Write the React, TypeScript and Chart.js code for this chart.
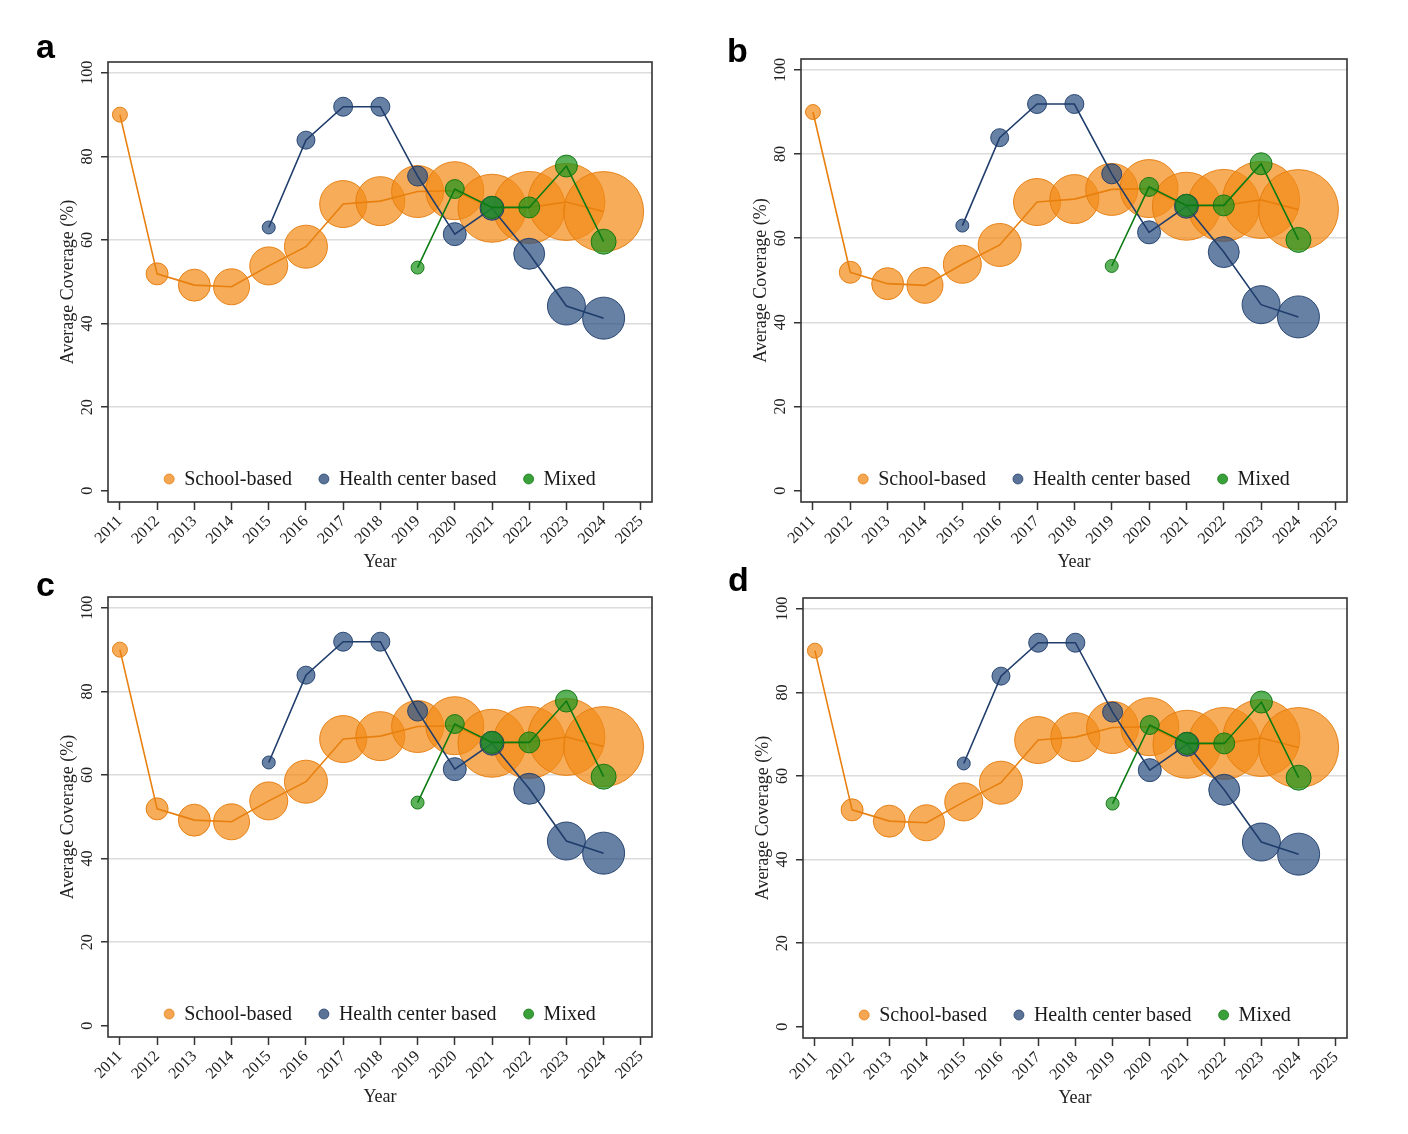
import React, { useEffect, useRef } from 'react';
import { Chart, registerables } from 'chart.js';

Chart.register(...registerables);

// Average coverage (%) by year and delivery strategy; weight = relative bubble size
const schoolYears = [2011, 2012, 2013, 2014, 2015, 2016, 2017, 2018, 2019, 2020, 2021, 2022, 2023, 2024];
const schoolCoverage = [90.0, 51.9, 49.2, 48.8, 53.8, 58.4, 68.6, 69.3, 71.6, 71.8, 67.6, 67.8, 69.1, 66.8];
const schoolWeight = [7.5, 11, 16, 18, 19, 21.5, 23.5, 24.5, 26, 29, 34, 36, 38.5, 40];

const healthYears = [2015, 2016, 2017, 2018, 2019, 2020, 2021, 2022, 2023, 2024];
const healthCoverage = [63.0, 83.9, 91.9, 91.9, 75.3, 61.4, 67.6, 56.7, 44.2, 41.3];
const healthWeight = [6.5, 9, 9.5, 9.5, 10, 11.5, 12, 15.5, 19, 21];

const mixedYears = [2019, 2020, 2021, 2022, 2023, 2024];
const mixedCoverage = [53.4, 72.2, 67.8, 67.8, 77.7, 59.6];
const mixedWeight = [6.5, 9.5, 11, 10.5, 11, 12.5];

const yearTicks = [2011, 2012, 2013, 2014, 2015, 2016, 2017, 2018, 2019, 2020, 2021, 2022, 2023, 2024, 2025];
const coverageTicks = [0, 20, 40, 60, 80, 100];
const seriesNames = ['School-based', 'Health center based', 'Mixed'];

const SERIF = '"Liberation Serif", "Times New Roman", serif';

const colors = {
  school: { fill: 'rgba(243, 140, 25, 0.72)', edge: 'rgba(228, 122, 10, 0.9)', line: '#e8800f', key: '#f5a652' },
  health: { fill: 'rgba(45, 80, 130, 0.72)', edge: 'rgba(30, 60, 105, 0.9)', line: '#1f3d6b', key: '#5a7397' },
  mixed: { fill: 'rgba(28, 148, 28, 0.72)', edge: 'rgba(15, 115, 15, 0.9)', line: '#0b7a12', key: '#3aa13a' },
};

// plot-area rectangles of the four panels (page pixels)
const panels = [
  { letter: 'a', l: 108, t: 62, r: 653, b: 502, lx: 36, ly: 29 },
  { letter: 'b', l: 801, t: 59, r: 1348, b: 502, lx: 727, ly: 33 },
  { letter: 'c', l: 108, t: 597, r: 653, b: 1037, lx: 36, ly: 567 },
  { letter: 'd', l: 803, t: 598, r: 1348, b: 1038, lx: 728, ly: 562 },
];

const bubbleRadius = (w: number) => w;

const framePlugin = {
  id: 'frame',
  afterDraw(chart: any) {
    const { ctx, chartArea } = chart;
    ctx.save();
    ctx.strokeStyle = '#333';
    ctx.lineWidth = 1.6;
    ctx.strokeRect(chartArea.left, chartArea.top, chartArea.right - chartArea.left, chartArea.bottom - chartArea.top);
    ctx.restore();
  },
};

const legendPlugin = {
  id: 'insideLegend',
  afterDraw(chart: any) {
    const { ctx, chartArea } = chart;
    const keys = [colors.school, colors.health, colors.mixed];
    ctx.save();
    ctx.font = `20px ${SERIF}`;
    const widths = seriesNames.map((n) => ctx.measureText(n).width);
    const mr = 5;
    const toText = 15;
    const gap = 32;
    const total = mr + widths.reduce((s, w) => s + toText + w, 0) + gap * (widths.length - 1);
    const cx = (chartArea.left + chartArea.right) / 2;
    const y = chartArea.bottom - 23;
    let x = cx - total / 2 + mr;
    seriesNames.forEach((name, i) => {
      ctx.beginPath();
      ctx.arc(x, y, mr, 0, Math.PI * 2);
      ctx.fillStyle = keys[i].key;
      ctx.fill();
      ctx.lineWidth = 0.8;
      ctx.strokeStyle = keys[i].edge;
      ctx.stroke();
      ctx.fillStyle = '#1a1a1a';
      ctx.textAlign = 'left';
      ctx.textBaseline = 'middle';
      ctx.fillText(name, x + toText, y + 1);
      x += toText + widths[i] + gap;
    });
    ctx.restore();
  },
};

const bubbles = (xs: number[], ys: number[], ws: number[]) =>
  xs.map((x, i) => ({ x, y: ys[i], r: bubbleRadius(ws[i]) }));
const points = (xs: number[], ys: number[]) => xs.map((x, i) => ({ x, y: ys[i] }));

const Panel: React.FC<{ l: number; t: number; r: number; b: number }> = ({ l, t, r, b }) => {
  const canvasRef = useRef<HTMLCanvasElement>(null);
  const chartRef = useRef<Chart | null>(null);
  const width = r - l + 148;
  const height = b - t + 130;

  useEffect(() => {
    if (!canvasRef.current) return;
    if (chartRef.current) chartRef.current.destroy();

    const series = [
      { key: colors.school, xs: schoolYears, ys: schoolCoverage, ws: schoolWeight, name: seriesNames[0] },
      { key: colors.health, xs: healthYears, ys: healthCoverage, ws: healthWeight, name: seriesNames[1] },
      { key: colors.mixed, xs: mixedYears, ys: mixedCoverage, ws: mixedWeight, name: seriesNames[2] },
    ];
    const datasets: any[] = [];
    series.forEach((s, i) => {
      datasets.push({
        type: 'bubble',
        label: s.name,
        data: bubbles(s.xs, s.ys, s.ws),
        backgroundColor: s.key.fill,
        borderColor: s.key.edge,
        borderWidth: 1,
        order: 6 - i * 2,
      });
      datasets.push({
        type: 'line',
        label: s.name + ' line',
        data: points(s.xs, s.ys),
        borderColor: s.key.line,
        borderWidth: 1.6,
        pointRadius: 0,
        fill: false,
        tension: 0,
        order: 5 - i * 2,
      });
    });

    chartRef.current = new Chart(canvasRef.current, {
      type: 'bubble',
      data: { datasets },
      plugins: [framePlugin, legendPlugin],
      options: {
        animation: false,
        responsive: false,
        devicePixelRatio: 1,
        layout: { padding: { left: 53, top: 50, right: 40, bottom: 5 } },
        plugins: { legend: { display: false }, tooltip: { enabled: false } },
        scales: {
          x: {
            type: 'linear',
            min: 2010.68,
            max: 2025.3,
            afterBuildTicks: (axis: any) => {
              axis.ticks = yearTicks.map((v) => ({ value: v }));
            },
            afterFit: (scale: any) => {
              scale.height = 75;
              scale.paddingLeft = 0;
              scale.paddingRight = 0;
            },
            border: { display: false },
            grid: {
              drawOnChartArea: false,
              drawTicks: true,
              tickLength: 8,
              tickColor: '#333',
              tickWidth: 1.5,
            },
            ticks: {
              autoSkip: false,
              minRotation: 45,
              maxRotation: 45,
              padding: 2,
              color: '#222',
              font: { family: SERIF, size: 16 },
              callback: (v: any) => String(v),
            },
            title: {
              display: true,
              text: 'Year',
              color: '#222',
              font: { family: SERIF, size: 18 },
              padding: { top: 4, bottom: 4 },
            },
          },
          y: {
            type: 'linear',
            min: -2.7,
            max: 102.6,
            afterBuildTicks: (axis: any) => {
              axis.ticks = coverageTicks.map((v) => ({ value: v }));
            },
            afterFit: (scale: any) => {
              scale.width = 55;
              scale.paddingTop = 0;
              scale.paddingBottom = 0;
            },
            border: { display: false },
            grid: {
              drawOnChartArea: true,
              color: (ctx: any) => (ctx.tick && ctx.tick.value === 0 ? 'rgba(0,0,0,0)' : '#dcdcdc'),
              lineWidth: 1.5,
              drawTicks: true,
              tickLength: 7,
              tickColor: '#333',
              tickWidth: 1.5,
            },
            ticks: {
              minRotation: 90,
              maxRotation: 90,
              crossAlign: 'center',
              padding: 1,
              color: '#222',
              font: { family: SERIF, size: 16 },
              callback: (v: any) => String(v),
            },
            title: {
              display: true,
              text: 'Average Coverage (%)',
              color: '#222',
              font: { family: SERIF, size: 18 },
              padding: { top: 4, bottom: 4 },
            },
          },
        },
      } as any,
    });

    return () => {
      if (chartRef.current) {
        chartRef.current.destroy();
        chartRef.current = null;
      }
    };
  }, []);

  return (
    <canvas
      ref={canvasRef}
      width={width}
      height={height}
      style={{ position: 'absolute', left: l - 108, top: t - 50, width, height }}
    />
  );
};

const App: React.FC = () => {
  return (
    <div style={{ position: 'absolute', left: 0, top: 0, width: 1408, height: 1134, background: '#fff', overflow: 'hidden' }}>
      {panels.map((p) => (
        <React.Fragment key={p.letter}>
          <Panel l={p.l} t={p.t} r={p.r} b={p.b} />
          <div
            style={{
              position: 'absolute',
              left: p.lx,
              top: p.ly,
              fontFamily: '"Liberation Sans", Arial, sans-serif',
              fontWeight: 'bold',
              fontSize: 34,
              lineHeight: 1,
              color: '#000',
            }}
          >
            {p.letter}
          </div>
        </React.Fragment>
      ))}
    </div>
  );
};

export default App;
